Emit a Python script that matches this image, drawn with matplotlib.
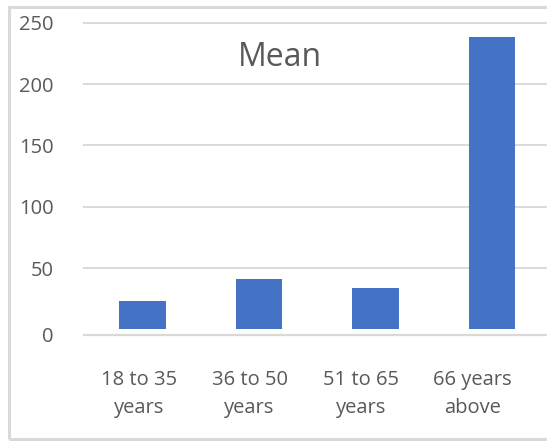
import matplotlib
matplotlib.use("Agg")
import matplotlib.pyplot as plt
import matplotlib.transforms as mtransforms
from matplotlib.patches import Rectangle
import numpy as np

categories = ["18 to 35\nyears", "36 to 50\nyears", "51 to 65\nyears", "66 years\nabove"]
means = [23.5, 41, 33.5, 238.5]
gridlines = [50, 100, 150, 200, 250]
ytick_labels = ["0", "50", "100", "150", "200", "250"]

BAR = "#4472C4"
GRID = "#D9D9D9"
TEXT = "#595959"
FONT = "Open Sans"

W, H = 547, 441
fig = plt.figure(figsize=(W / 100, H / 100), dpi=100)
fig.patch.set_facecolor("white")

# chart border
fig.add_artist(Rectangle((8.5 / W, 2.5 / H), 600 / W, 431.5 / H,
                         transform=fig.transFigure, fill=False,
                         edgecolor=GRID, linewidth=2.2))

ax = fig.add_axes([84.25 / W, (H - 335) / H, 466 / W, (335 - 22.7) / H])
ax.set_facecolor("none")

x = np.arange(len(categories))
ax.bar(x, means, width=0.403, color=BAR, zorder=3)

ax.set_xlim(-0.5, len(categories) - 0.5)
ybottom = -4.5
ax.set_ylim(ybottom, 250)

for g in gridlines:
    ax.axhline(g, color=GRID, linewidth=1.4, zorder=1, clip_on=False)

for s in ["top", "right", "left"]:
    ax.spines[s].set_visible(False)
ax.spines["bottom"].set_color(GRID)
ax.spines["bottom"].set_linewidth(1.6)

ax.set_yticks([ybottom] + gridlines)
ax.set_yticklabels(ytick_labels, fontsize=14.5, color=TEXT, family=FONT)
ax.tick_params(axis="y", length=0, pad=22)

ax.set_xticks(x)
ax.set_xticklabels(categories, fontsize=14.5, color=TEXT, family=FONT,
                   linespacing=1.55)
ax.tick_params(axis="x", length=0, pad=25)

# nudge category labels to sit under the bars as laid out
shifts = [-3.5, -9.5, -14.5, -19.5]
for lab, dx in zip(ax.get_xticklabels(), shifts):
    lab.set_transform(lab.get_transform() +
                      mtransforms.ScaledTranslation(dx / 100, 0, fig.dpi_scale_trans))

fig.text(280 / W, 1 - 57 / H, "Mean", ha="center", va="center",
         fontsize=23, color=TEXT, family=FONT)

fig.savefig("out.png", dpi=100)
